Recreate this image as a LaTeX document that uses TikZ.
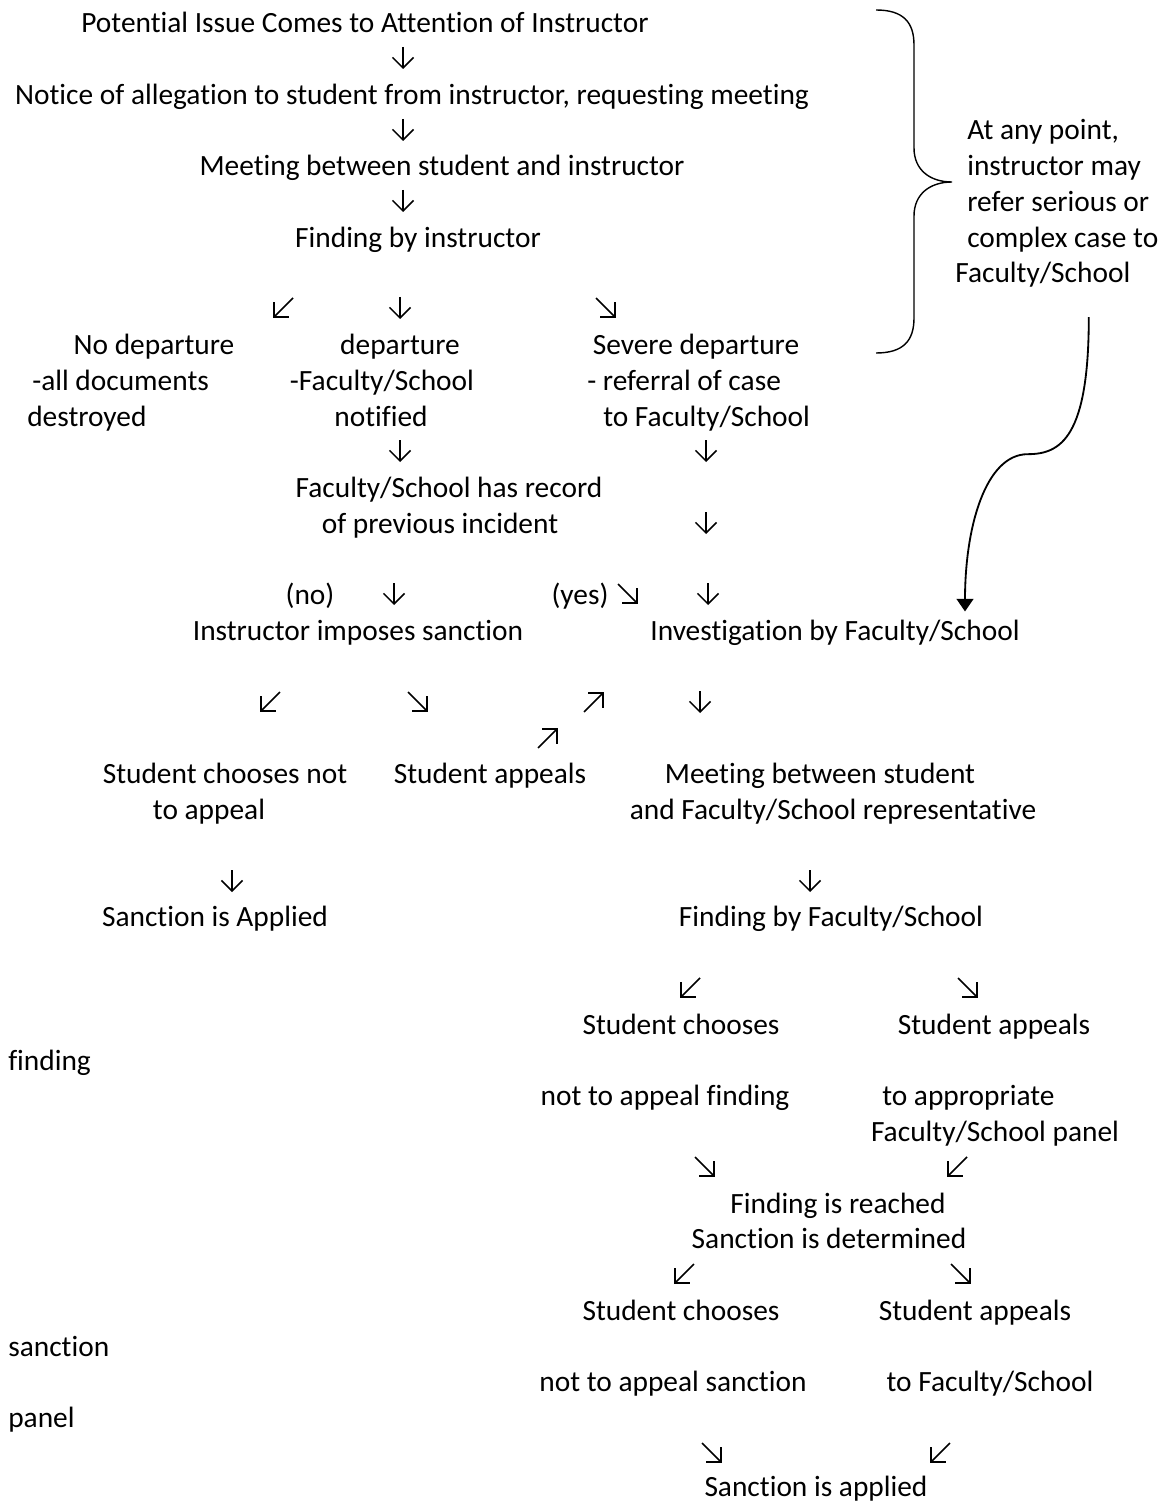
\documentclass[tikz,border=0pt]{standalone}
\usepackage{fontspec}
\setmainfont{Carlito}[Ligatures=NoCommon]
\usetikzlibrary{arrows.meta}

\newcommand{\bodyfont}{\fontsize{20.9}{25}\selectfont}
% small arrow marks between the lines
\newcommand{\arrS}[2]{\draw[glyph] (#1,#2-11) -- (#1,#2+11);}
\newcommand{\arrSE}[2]{\draw[glyph] (#1-10,#2-10) -- (#1+10,#2+10);}
\newcommand{\arrSW}[2]{\draw[glyph] (#1+10,#2-10) -- (#1-10,#2+10);}
\newcommand{\arrNE}[2]{\draw[glyph] (#1-10,#2+10) -- (#1+10,#2-10);}

\tikzset{
  txt/.style={inner sep=0pt, anchor=mid, yshift=-0.17cm, font=\bodyfont},
  ltxt/.style={inner sep=0pt, anchor=mid west, yshift=-0.17cm, font=\bodyfont},
  glyph/.style={-{Straight Barb[length=7.5pt,width=15pt]}, line width=1.1pt},
  referline/.style={-{Triangle[length=9pt,width=12pt]}, line width=1.3pt}
}

\begin{document}
\begin{tikzpicture}[x=0.025cm, y=-0.025cm]
	\useasboundingbox (0,0) rectangle (1167,1503);
	
	% instructor stage
	\node[txt] (issue) at (365,22) {Potential Issue Comes to Attention of Instructor};
	\arrS{403}{58}
	\node[txt] (notice) at (412,94) {Notice of allegation to student from instructor, requesting meeting};
	\arrS{403}{130}
	\node[txt] (meet) at (442,165) {Meeting between student and instructor};
	\arrS{403}{201}
	\node[txt] (find) at (418,237) {Finding by instructor};
	
	\arrSW{283}{308} \arrS{400}{308} \arrSE{606}{308}
	\node[txt] (nodep) at (154,344) {No departure};
	\node[txt] (dep) at (400,344) {departure};
	\node[txt] (sevdep) at (696,344) {Severe departure};
	\node[ltxt] (destr1) at (32,380) {-all documents};
	\node[ltxt] (destr2) at (27,416) {destroyed};
	\node[txt] (notif1) at (382,380) {-Faculty/School};
	\node[txt] (notif2) at (381,416) {notified};
	\node[ltxt] (refcase1) at (587,380) {- referral of case};
	\node[ltxt] (refcase2) at (603,416) {to Faculty/School};
	
	\arrS{400}{451} \arrS{706}{451}
	\node[txt] (record1) at (449,487) {Faculty/School has record};
	\node[txt] (record2) at (440,523) {of previous incident};
	\arrS{706}{523}
	
	\node[txt] (no) at (310,594) {(no)};
	\arrS{394}{594}
	\node[txt] (yes) at (580,594) {(yes)};
	\arrSE{628}{594} \arrS{708}{594}
	\node[txt] (impose) at (358,630) {Instructor imposes sanction};
	\node[txt] (invest) at (835,630) {Investigation by Faculty/School};
	
	\arrSW{270}{702} \arrSE{418}{702} \arrNE{594}{702} \arrS{700}{702}
	\arrNE{548}{738}
	\node[txt] (noapp1) at (225,773) {Student chooses not};
	\node[txt] (noapp2) at (209,809) {to appeal};
	\node[txt] (appeal) at (490,773) {Student appeals};
	\node[txt] (fsmeet1) at (820,773) {Meeting between student};
	\node[txt] (fsmeet2) at (833,809) {and Faculty/School representative};
	
	\arrS{232}{881} \arrS{810}{881}
	\node[txt] (applied) at (215,916) {Sanction is Applied};
	\node[txt] (fsfind) at (831,916) {Finding by Faculty/School};
	
	% faculty/school stage
	\arrSW{690}{988} \arrSE{968}{988}
	\node[txt] (chooseA1) at (681,1024) {Student chooses};
	\node[txt] (appealA1) at (994,1024) {Student appeals};
	\node[ltxt] (strayA) at (8,1060) {finding};
	\node[txt] (chooseA2) at (665,1095) {not to appeal finding};
	\node[ltxt] (appealA2) at (882,1095) {to appropriate};
	\node[txt] (appealA3) at (995,1131) {Faculty/School panel};
	\arrSE{705}{1167} \arrSW{957}{1167}
	\node[txt] (reached) at (838,1203) {Finding is reached};
	\node[txt] (determ) at (829,1238) {Sanction is determined};
	\arrSW{684}{1274} \arrSE{961}{1274}
	\node[txt] (chooseB1) at (681,1310) {Student chooses};
	\node[txt] (appealB1) at (975,1310) {Student appeals};
	\node[ltxt] (strayB) at (8,1346) {sanction};
	\node[txt] (chooseB2) at (673,1381) {not to appeal sanction};
	\node[txt] (appealB2) at (990,1381) {to Faculty/School};
	\node[ltxt] (strayC) at (8,1417) {panel};
	\arrSE{712}{1453} \arrSW{940}{1453}
	\node[txt] (final) at (816,1486) {Sanction is applied};
	
	% side note with brace
	\draw[line width=1pt] (876,10) .. controls (903,10) and (914,22) .. (914,45) -- (914,148)
		.. controls (914,170) and (930,182) .. (952,182)
		.. controls (930,182) and (914,194) .. (914,216) -- (914,318)
		.. controls (914,341) and (903,353) .. (876,353);
	\node[ltxt] (side1) at (967,129) {At any point,};
	\node[ltxt] (side2) at (967,165) {instructor may};
	\node[ltxt] (side3) at (967,201) {refer serious or};
	\node[ltxt] (side4) at (967,237) {complex case to};
	\node[ltxt] (side5) at (955,272) {Faculty/School};
	
	\draw[referline] (side5.south) ++(46,30) .. controls ++(0,120) and ++(33,0) .. ++(-61,137)
		.. controls ++(-42,0) and ++(0,-85) .. ([shift={(130,-8)}]invest.north);
\end{tikzpicture}
\end{document}
